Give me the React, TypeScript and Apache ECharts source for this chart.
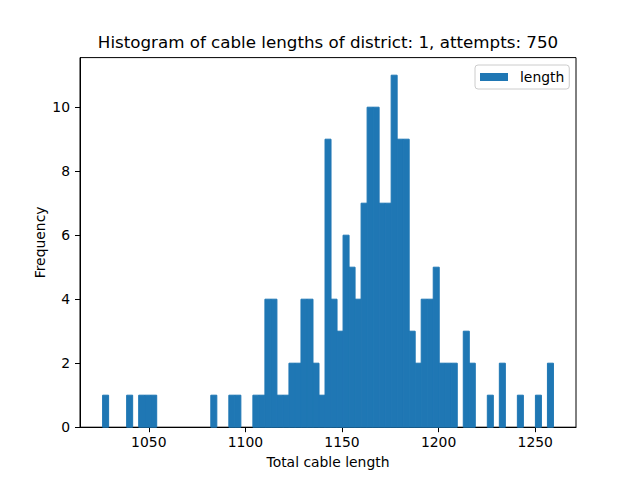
import { useEffect, useRef } from "react";
import * as echarts from "echarts";

const BLUE = "#1f77b4";
const FONT = '"DejaVu Sans", sans-serif';

// histogram of 75 bins, first edge and width
const BIN_START = 1026.1;
const BIN_WIDTH = 3.111;
const COUNTS = [
  1, 0, 0, 0, 1, 0, 1, 1, 1, 0,
  0, 0, 0, 0, 0, 0, 0, 0, 1, 0,
  0, 1, 1, 0, 0, 1, 1, 4, 4, 1,
  1, 2, 2, 4, 4, 2, 1, 9, 4, 3,
  6, 5, 4, 7, 10, 10, 7, 7, 11, 9,
  9, 3, 2, 4, 4, 5, 2, 2, 2, 0,
  3, 2, 0, 0, 1, 0, 2, 0, 0, 1,
  0, 0, 1, 0, 2,
];
const X_TICKS = [1050, 1100, 1150, 1200, 1250];
const Y_TICKS = [0, 2, 4, 6, 8, 10];
const X_MIN = 1014.4;
const X_MAX = 1271.1;
const Y_MAX = 11.55;

const TITLE = "Histogram of cable lengths of district: 1, attempts: 750";

export default function App() {
  const ref = useRef<HTMLDivElement>(null);

  useEffect(() => {
    if (!ref.current) return;
    const chart = echarts.init(ref.current, undefined, { renderer: "svg" });

    const data = COUNTS.map((c, i) => [BIN_START + i * BIN_WIDTH, BIN_START + (i + 1) * BIN_WIDTH, c]).filter(
      (d) => d[2] > 0
    );

    chart.setOption({
      animation: false,
      textStyle: { fontFamily: FONT },
      grid: {
        left: 80,
        right: 64,
        top: 57.6,
        bottom: 52.8,
        show: true,
        borderColor: "#000",
        borderWidth: 1,
        backgroundColor: "transparent",
        outerBoundsMode: "none",
      },
      graphic: [
        {
          type: "text",
          x: 328,
          y: 50,
          style: {
            text: TITLE,
            fill: "#000",
            font: `16.7px ${FONT}`,
            textAlign: "center",
            textVerticalAlign: "bottom",
          },
        },
      ],
      legend: {
        left: 475,
        top: 65,
        padding: [5, 5, 5, 5],
        itemWidth: 28,
        itemHeight: 8,
        icon: "rect",
        backgroundColor: "rgba(255,255,255,0.8)",
        borderColor: "#cccccc",
        borderWidth: 1,
        borderRadius: 3,
        textStyle: { color: "#000", fontSize: 13.9, fontFamily: FONT, padding: [0, 0, 0, 7] },
        data: [{ name: "length", itemStyle: { color: BLUE } }],
      },
      xAxis: {
        type: "value",
        min: X_MIN,
        max: X_MAX,
        name: "Total cable length",
        nameLocation: "middle",
        nameGap: 28,
        nameMoveOverlap: false,
        nameTextStyle: { color: "#000", fontSize: 13.9, fontFamily: FONT },
        axisLine: { show: true, lineStyle: { color: "#000", width: 1 } },
        axisTick: { show: true, length: 5, lineStyle: { color: "#000", width: 1 }, customValues: X_TICKS },
        axisLabel: { color: "#000", fontSize: 13.9, margin: 8, customValues: X_TICKS, formatter: (v: number) => String(v) },
        splitLine: { show: false },
      },
      yAxis: {
        type: "value",
        min: 0,
        max: Y_MAX,
        name: "Frequency",
        nameLocation: "middle",
        nameGap: 33,
        nameMoveOverlap: false,
        nameTextStyle: { color: "#000", fontSize: 13.9, fontFamily: FONT },
        axisLine: { show: true, lineStyle: { color: "#000", width: 1 } },
        axisTick: { show: true, length: 5, lineStyle: { color: "#000", width: 1 }, customValues: Y_TICKS },
        axisLabel: { color: "#000", fontSize: 13.9, margin: 10, customValues: Y_TICKS, formatter: (v: number) => String(v) },
        splitLine: { show: false },
      },
      series: [
        {
          name: "length",
          type: "custom",
          itemStyle: { color: BLUE },
          encode: { x: [0, 1], y: 2 },
          data,
          renderItem: (_params: unknown, api: any) => {
            const p0 = api.coord([api.value(0), 0]);
            const p1 = api.coord([api.value(1), api.value(2)]);
            return {
              type: "rect",
              shape: { x: p0[0], y: p1[1], width: p1[0] - p0[0], height: p0[1] - p1[1] },
              style: { fill: BLUE, stroke: BLUE, lineWidth: 1 },
            };
          },
        },
      ],
    });

    return () => chart.dispose();
  }, []);

  return <div ref={ref} style={{ position: "absolute", left: 0, top: 0, width: 640, height: 480 }} />;
}
